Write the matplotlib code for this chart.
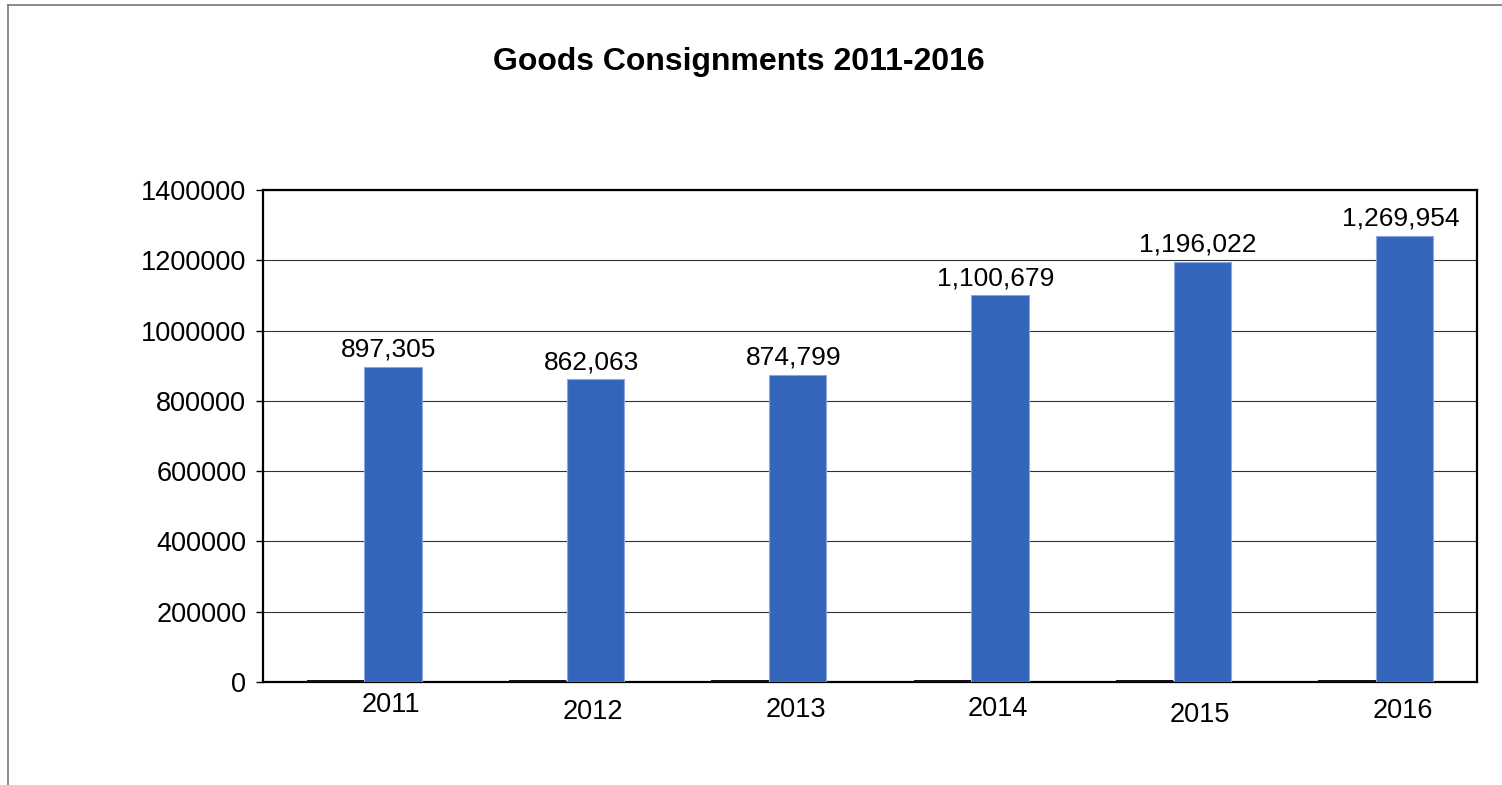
import numpy as np
import matplotlib
matplotlib.use('Agg')
import matplotlib.pyplot as plt
from matplotlib.lines import Line2D
from matplotlib.transforms import ScaledTranslation

years = ['2011', '2012', '2013', '2014', '2015', '2016']
base_series = [5000, 5000, 5000, 5000, 5000, 5000]
consignments = [897305, 862063, 874799, 1100679, 1196022, 1269954]
label_shift_px = [0, 7, 5, 4, 10, 6]  # the x labels sit a bit uneven in the source

plt.rcParams['font.family'] = ['Liberation Sans', 'DejaVu Sans']

fig = plt.figure(figsize=(15.02, 7.85), dpi=100)
ax = fig.add_axes([263 / 1502, 1 - 682 / 785, 1214 / 1502, 492 / 785])

# grey frame around the chart (only left and top visible)
fig.add_artist(Line2D([8 / 1502, 8 / 1502], [0, 1 - 5 / 785], transform=fig.transFigure,
                      color='#777777', lw=1.2))
fig.add_artist(Line2D([8 / 1502, 1], [1 - 5 / 785, 1 - 5 / 785], transform=fig.transFigure,
                      color='#777777', lw=1.2))

x = np.arange(len(years))
w = 0.284
ax.bar(x - w / 2, base_series, width=w, color='#111122', zorder=3)
ax.bar(x + w / 2, consignments, width=w, color='#3366bb', edgecolor='#8fa8dc',
       linewidth=0.8, zorder=3)

for xi, v in zip(x, consignments):
    ax.annotate(f'{v:,}', (xi + w / 2, v), xytext=(-3, 7), textcoords='offset points',
                ha='center', va='baseline', fontsize=19)

ax.set_xlim(-0.5, len(years) - 0.5)
ax.set_ylim(0, 1400000)
ax.set_yticks(np.arange(0, 1400001, 200000))
ax.set_yticklabels([str(int(t)) for t in np.arange(0, 1400001, 200000)], fontsize=19.5)
ax.set_xticks(x + w / 2)
ax.set_xticklabels(years, fontsize=19.5)
ax.tick_params(axis='x', length=0, pad=7)
ax.tick_params(axis='y', length=5, width=1, pad=7)

for lbl, d in zip(ax.get_xticklabels(), label_shift_px):
    lbl.set_transform(lbl.get_transform() + ScaledTranslation(-2 / 100, -d / 100, fig.dpi_scale_trans))

ax.yaxis.grid(True, color='#333333', lw=0.8, zorder=0)
ax.set_axisbelow(True)
for s in ax.spines.values():
    s.set_linewidth(1.6)
    s.set_color('black')

fig.text(739 / 1502, 1 - 62 / 785, 'Goods Consignments 2011-2016', ha='center', va='center',
         fontsize=23, fontweight='bold')

fig.savefig('out.png', dpi=100)
